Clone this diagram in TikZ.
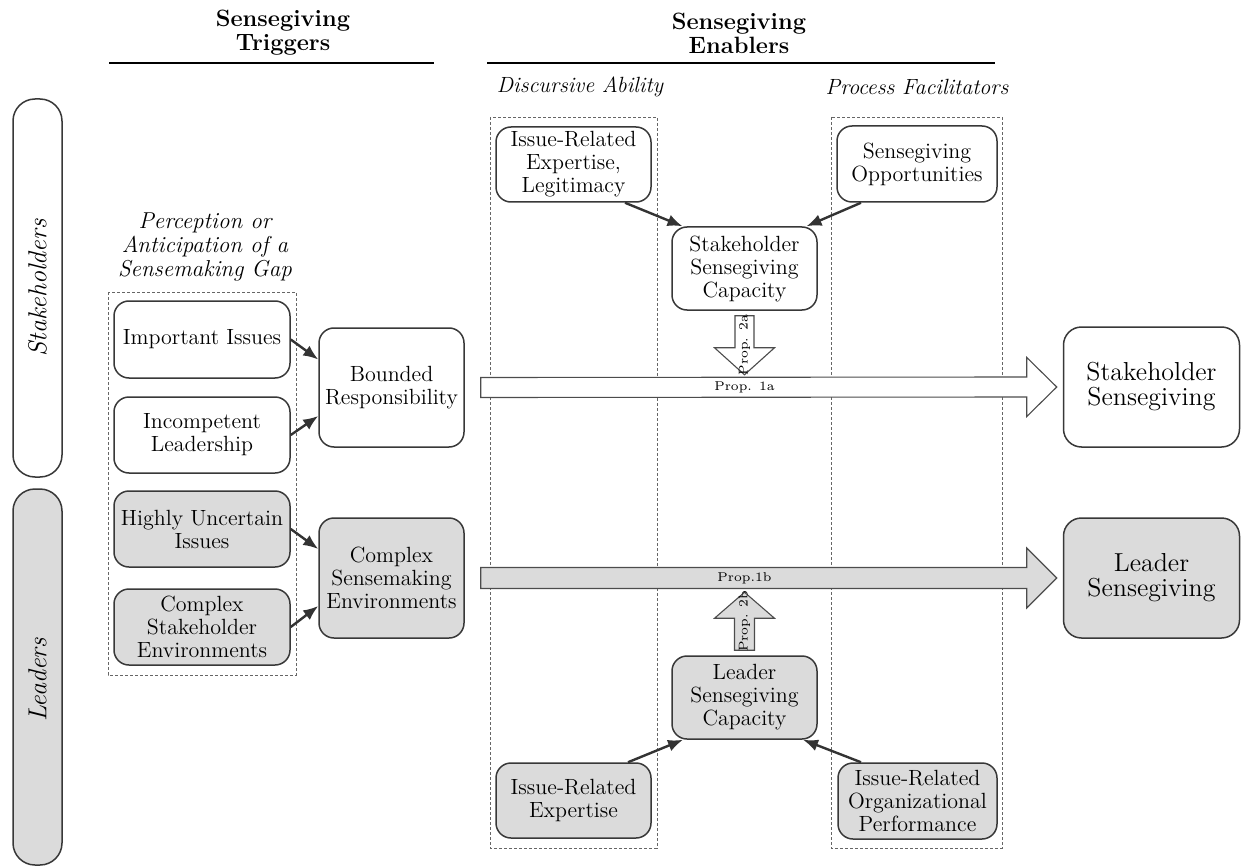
\documentclass[tikz,border=0pt]{standalone}
\usetikzlibrary{arrows.meta,calc}
\definecolor{linec}{gray}{0.22}
\definecolor{boxgray}{gray}{0.86}
\tikzset{
  box/.style={draw=linec, line width=0.75pt, rounded corners=7.5pt, align=center, inner sep=0pt,
    font=\fontsize{11}{11.5}\selectfont},
  pbox/.style={box},
  bigbox/.style={box, rounded corners=9pt, font=\fontsize{13}{12.5}\selectfont},
  wbox/.style={fill=white},
  gbox/.style={fill=boxgray},
  dashbox/.style={draw=black!60, line width=0.4pt, dash pattern=on 1.5pt off 1pt},
  conn/.style={draw=black!80, line width=1.2pt, -{Latex[length=7.5pt,width=6pt]}},
  barrow/.style={draw=black!70, line width=0.55pt},
  prop/.style={font=\fontsize{6.4}{6.4}\selectfont, inner sep=0pt},
  band/.style={draw=linec, line width=0.75pt, rounded corners=11pt},
  bandtext/.style={font=\itshape\fontsize{13}{13}\selectfont, rotate=90},
  header/.style={font=\bfseries\fontsize{11.8}{12}\selectfont, align=center},
  sub/.style={font=\itshape\fontsize{11}{12}\selectfont},
}
\begin{document}
\begin{tikzpicture}[x=0.5pt,y=-0.5pt]
\useasboundingbox (0,0) rectangle (1241,866);

% headers
\node[header] (h1) at (283,33) {Sensegiving\\Triggers};
\node[header] (h2) at (739,33) {Sensegiving\\Enablers};
\draw[line width=1.2pt] (109,63) -- (434,63);
\draw[line width=1.2pt] (487,63) -- (995,63);
\node[sub] (da) at (580,87) {Discursive Ability};
\node[sub] (pf) at (917,87) {Process Facilitators};
\node[font=\itshape\fontsize{11.5}{12}\selectfont, align=center] (gap) at (205,247) {Perception or\\Anticipation of a\\Sensemaking Gap};

% bands
\node[band, fill=white, minimum width=24.5pt, minimum height=189pt] (bs) at (37.5,288) {};
\node[bandtext] (bst) at (bs.center) {Stakeholders};
\node[band, fill=boxgray, minimum width=24.5pt, minimum height=188pt] (bl) at (37.5,677) {};
\node[bandtext] (blt) at (37.5,680) {Leaders};

% dashed groups
\draw[dashbox] (108,292) rectangle (296,675);
\draw[dashbox] (490,117) rectangle (657,848);
\draw[dashbox] (831,117) rectangle (1002,848);

% trigger boxes
\node[pbox, wbox, minimum width=88pt, minimum height=38.5pt] (imp) at (202,339.5) {Important Issues};
\node[pbox, wbox, minimum width=88pt, minimum height=38pt] (inc) at (202,435) {Incompetent\\Leadership};
\node[pbox, gbox, minimum width=88pt, minimum height=38pt] (hui) at (202,529) {Highly Uncertain\\Issues};
\node[box, gbox, minimum width=88pt, minimum height=38pt] (cse) at (202,627) {Complex\\Stakeholder\\Environments};
\node[pbox, wbox, minimum width=72.5pt, minimum height=59.5pt] (bounded) at (391.5,387.5) {Bounded\\Responsibility};
\node[pbox, gbox, minimum width=72.5pt, minimum height=60pt] (csm) at (391.5,578) {Complex\\Sensemaking\\Environments};

% enabler boxes
\node[box, wbox, minimum width=77.5pt, minimum height=37.5pt] (ire) at (573.5,164.5) {Issue-Related\\Expertise,\\Legitimacy};
\node[box, wbox, minimum width=80pt, minimum height=38pt] (opp) at (917,164) {Sensegiving\\Opportunities};
\node[box, wbox, minimum width=72.5pt, minimum height=41.5pt] (scap) at (744.5,268.5) {Stakeholder\\Sensegiving\\Capacity};
\node[box, gbox, minimum width=72.5pt, minimum height=41.5pt] (lcap) at (744.5,697.5) {Leader\\Sensegiving\\Capacity};
\node[box, gbox, minimum width=77.5pt, minimum height=37.5pt] (iree) at (573.5,800.5) {Issue-Related\\Expertise};
\node[box, gbox, minimum width=79.5pt, minimum height=38pt] (org) at (917.5,801) {Issue-Related\\Organizational\\Performance};

% outcome boxes
\node[bigbox, wbox, minimum width=88pt, minimum height=60pt] (ss) at (1151.5,387) {Stakeholder\\Sensegiving};
\node[bigbox, gbox, minimum width=88pt, minimum height=60pt] (ls) at (1151.5,578) {Leader\\Sensegiving};

% connectors
\draw[conn] (imp.east) -- ([yshift=14pt]bounded.west);
\draw[conn] (inc.east) -- ([yshift=-14.25pt]bounded.west);
\draw[conn] (hui.east) -- ([yshift=14.5pt]csm.west);
\draw[conn] (cse.east) -- ([yshift=-14pt]csm.west);
\draw[conn] ([xshift=25.75pt]ire.south) -- ([xshift=-31pt]scap.north);
\draw[conn] ([xshift=-28pt]opp.south) -- ([xshift=31pt]scap.north);
\draw[conn] ([xshift=27.25pt]iree.north) -- ([xshift=-30.75pt]lcap.south);
\draw[conn] ([xshift=-28.25pt]org.north) -- ([xshift=29.25pt]lcap.south);

% block arrow Prop. 1a
\coordinate (p1s) at ([xshift=8pt]bounded.east);
\coordinate (p1e) at ([xshift=-3pt]ss.west);
\draw[barrow, fill=white] ($(p1s)+(0,-10)$) -- ($(p1e)+(-30,-10)$) -- ($(p1e)+(-30,-29.5)$) -- (p1e)
  -- ($(p1e)+(-30,29.5)$) -- ($(p1e)+(-30,10)$) -- ($(p1s)+(0,10)$) -- cycle;
\node[prop] (l1a) at (scap.south |- p1s) {Prop. 1a};

% block arrow Prop. 1b
\coordinate (p2s) at ([xshift=8pt]csm.east);
\coordinate (p2e) at ([xshift=-3pt]ls.west);
\draw[barrow, fill=boxgray] ($(p2s)+(0,-10.5)$) -- ($(p2e)+(-30,-10.5)$) -- ($(p2e)+(-30,-30)$) -- (p2e)
  -- ($(p2e)+(-30,30)$) -- ($(p2e)+(-30,10.5)$) -- ($(p2s)+(0,10.5)$) -- cycle;
\node[prop] (l1b) at (lcap.north |- p2s) {Prop.1b};

% block arrow Prop. 2a
\coordinate (p3s) at ([yshift=-2.5pt]scap.south);
\coordinate (p3e) at ([yshift=-32pt]scap.south);
\draw[barrow, fill=white] ($(p3s)+(-9.5,0)$) -- ($(p3e)+(-9.5,-27)$) -- ($(p3e)+(-30,-27)$) -- (p3e)
  -- ($(p3e)+(30,-27)$) -- ($(p3e)+(9.5,-27)$) -- ($(p3s)+(9.5,0)$) -- cycle;
\node[prop, rotate=90] (l2a) at ($(p3s)!0.5!(p3e)$) {Prop. 2a};

% block arrow Prop. 2b
\coordinate (p4s) at ([yshift=2.5pt]lcap.north);
\coordinate (p4e) at ([yshift=31.5pt]lcap.north);
\draw[barrow, fill=boxgray] ($(p4s)+(-10,0)$) -- ($(p4e)+(-10,26)$) -- ($(p4e)+(-30,26)$) -- (p4e)
  -- ($(p4e)+(30,26)$) -- ($(p4e)+(10,26)$) -- ($(p4s)+(10,0)$) -- cycle;
\node[prop, rotate=90] (l2b) at ($(p4s)!0.5!(p4e)$) {Prop. 2b};

\end{tikzpicture}
\end{document}
